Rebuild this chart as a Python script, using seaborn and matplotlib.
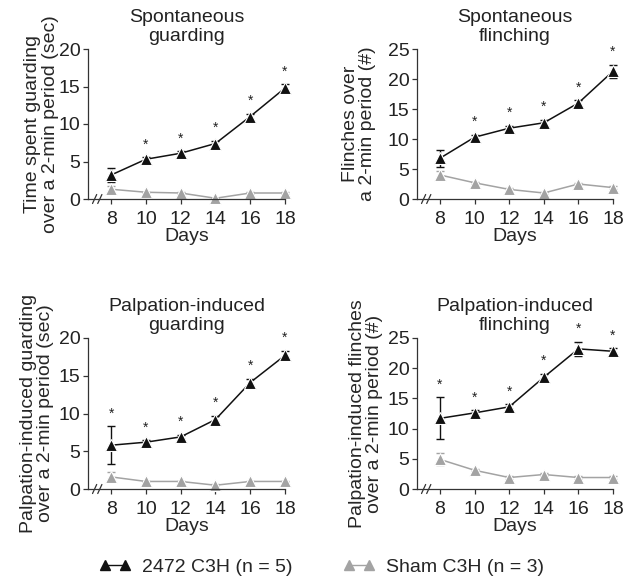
import numpy as np
import pandas as pd
import matplotlib
matplotlib.use("Agg")
import matplotlib.pyplot as plt
import seaborn as sns

days = [8, 10, 12, 14, 16, 18]

# spontaneous guarding (sec)
sg_c3h = [3.2, 5.3, 6.1, 7.4, 11.0, 14.8]
sg_c3h_err = [0.9, 0.3, 0.3, 0.4, 0.4, 0.5]
sg_sham = [1.3, 0.9, 0.8, 0.1, 0.8, 0.8]
sg_sham_err = [0.5, 0.1, 0.1, 0.1, 0.1, 0.1]
sg_stars = [False, True, True, True, True, True]

# spontaneous flinching (#)
sf_c3h = [6.8, 10.3, 11.8, 12.7, 16.0, 21.3]
sf_c3h_err = [1.4, 0.4, 0.4, 0.5, 0.5, 1.1]
sf_sham = [4.0, 2.7, 1.6, 1.0, 2.5, 1.9]
sf_sham_err = [0.7, 0.2, 0.2, 0.2, 0.2, 0.2]
sf_stars = [False, True, True, True, True, True]

# palpation-induced guarding (sec)
pg_c3h = [5.8, 6.2, 6.9, 9.2, 14.1, 17.7]
pg_c3h_err = [2.5, 0.3, 0.3, 0.5, 0.5, 0.6]
pg_sham = [1.6, 1.0, 1.0, 0.5, 1.0, 1.0]
pg_sham_err = [0.6, 0.1, 0.1, 0.1, 0.1, 0.1]
pg_stars = [True, True, True, True, True, True]

# palpation-induced flinching (#)
pf_c3h = [11.7, 12.6, 13.6, 18.5, 23.2, 22.8]
pf_c3h_err = [3.5, 0.5, 0.4, 0.6, 1.2, 0.5]
pf_sham = [4.9, 3.1, 1.9, 2.4, 1.9, 1.9]
pf_sham_err = [1.0, 0.2, 0.2, 0.2, 0.2, 0.2]
pf_stars = [True, True, True, True, True, True]

group_names = ["2472 C3H (n = 5)", "Sham C3H (n = 3)"]

sns.set_style("ticks")
plt.rcParams['font.family'] = ['Liberation Sans', 'DejaVu Sans']
plt.rcParams['font.size'] = 14

black = "#111111"
gray = "#a3a3a3"
palette = {group_names[0]: black, group_names[1]: gray}

W, H = 625, 583
fig = plt.figure(figsize=(W / 100, H / 100), dpi=100)

def box(l, r, t, b):
    return [l / W, (H - b) / H, (r - l) / W, (b - t) / H]

panels = [
    (box(88, 285, 49, 199), ["Spontaneous", "guarding"], "Time spent guarding\nover a 2-min period (sec)",
     sg_c3h, sg_c3h_err, sg_sham, sg_sham_err, sg_stars, 20, 5, 0),
    (box(417, 613, 49, 199), ["Spontaneous", "flinching"], "Flinches over\na 2-min period (#)",
     sf_c3h, sf_c3h_err, sf_sham, sf_sham_err, sf_stars, 25, 5, 8),
    (box(88, 285, 338, 489), ["Palpation-induced", "guarding"], "Palpation-induced guarding\nover a 2-min period (sec)",
     pg_c3h, pg_c3h_err, pg_sham, pg_sham_err, pg_stars, 20, 5, 3),
    (box(417, 613, 338, 489), ["Palpation-induced", "flinching"], "Palpation-induced flinches\nover a 2-min period (#)",
     pf_c3h, pf_c3h_err, pf_sham, pf_sham_err, pf_stars, 25, 5, 3),
]

for rect, title, ylabel, c3h, c3h_err, sham, sham_err, stars, ymax, ystep, lpad in panels:
    ax = fig.add_axes(rect)
    df = pd.DataFrame({
        "Days": days * 2,
        "value": c3h + sham,
        "group": [group_names[0]] * 6 + [group_names[1]] * 6,
    })
    # sham first so it sits below
    for g, vals, errs in [(group_names[1], sham, sham_err), (group_names[0], c3h, c3h_err)]:
        ax.errorbar(days, vals, yerr=errs, fmt="none", ecolor=palette[g],
                    elinewidth=1, capsize=3, capthick=1, clip_on=False)
    sns.lineplot(data=df, x="Days", y="value", hue="group", palette=palette,
                 hue_order=group_names[::-1], marker="^", markersize=8.5,
                 markeredgewidth=0.8, linewidth=1.1, ax=ax, legend=False,
                 clip_on=False)
    for d, v, e, s in zip(days, c3h, c3h_err, stars):
        if s:
            ax.annotate("*", (d, v + e), xytext=(0, 4), textcoords="offset points",
                        ha="center", va="bottom", fontsize=10, color="#222222")
    ax.set_xlim(6.67, 18)
    ax.set_ylim(0, ymax)
    ax.set_xticks(days)
    ax.set_yticks(np.arange(0, ymax + 1, ystep))
    ax.set_xlabel("Days", labelpad=0)
    ax.set_ylabel(ylabel, labelpad=lpad, linespacing=1.02)
    # two-line title as separate texts
    ax.text(0.5, 1.0 + 27 / 150, title[0], transform=ax.transAxes, ha="center",
            va="baseline", fontsize=14, color="#222222")
    ax.text(0.5, 1.0 + 8 / 150, title[1], transform=ax.transAxes, ha="center",
            va="baseline", fontsize=14, color="#222222")
    sns.despine(ax=ax)
    for sp in ["left", "bottom"]:
        ax.spines[sp].set_linewidth(0.9)
        ax.spines[sp].set_color("#333333")
    ax.tick_params(length=3.5, width=0.9, colors="#333333", labelcolor="#222222")
    ax.tick_params(axis="x", pad=5)
    ax.tick_params(axis="y", pad=2)
    # axis break marks
    for xb in [7.05, 7.35]:
        ax.plot([xb - 0.12, xb + 0.12], [-ymax * 0.03, ymax * 0.03], color="#333333",
                lw=0.9, clip_on=False, transform=ax.transData)

handles = [
    plt.Line2D([], [], color=black, marker="^", markersize=7, linewidth=1.0),
    plt.Line2D([], [], color=gray, marker="^", markersize=7, linewidth=1.0),
]
fig.legend(handles, group_names, loc="center", bbox_to_anchor=(0.515, 1 - 567 / H),
           ncol=2, frameon=False, numpoints=2, handlelength=1.6, columnspacing=2.6,
           handletextpad=0.6)

fig.savefig("out.png", dpi=100)
